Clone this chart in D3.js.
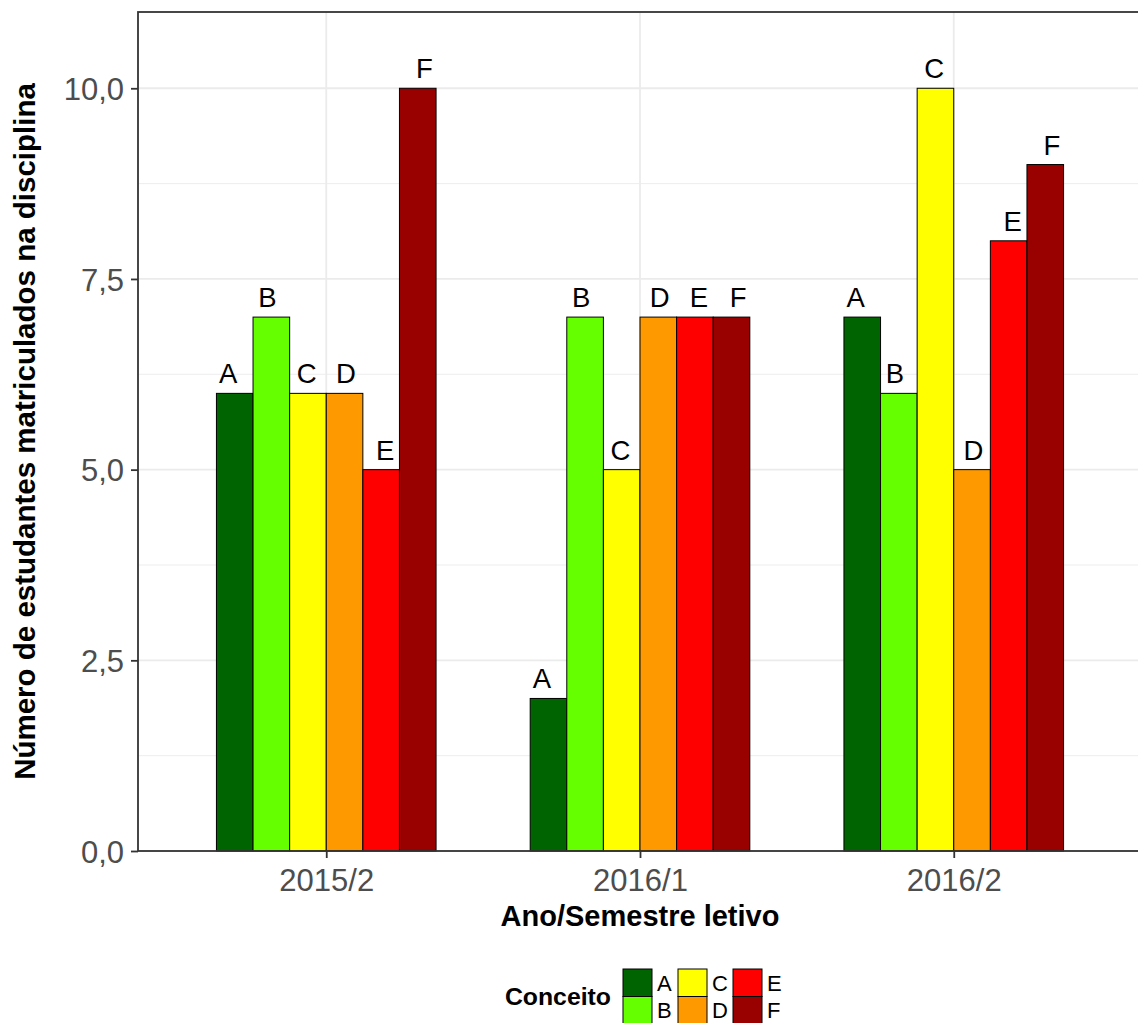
<!DOCTYPE html>
<html><head><meta charset="utf-8">
<script src="https://cdn.jsdelivr.net/npm/d3@7"></script>
<style>body{margin:0;background:#fff;} svg{display:block;font-family:"Liberation Sans",Arial,sans-serif;}</style>
</head><body>
<svg id="c" width="1138" height="1023"></svg>
<script>
const semesters = ["2015/2", "2016/1", "2016/2"];
const concepts = ["A", "B", "C", "D", "E", "F"];
const colors = ["#006400", "#66FF00", "#FFFF00", "#FF9900", "#FF0000", "#990000"];
const valuesA = [6, 2, 7];
const valuesB = [7, 7, 6];
const valuesC = [6, 5, 10];
const valuesD = [6, 7, 5];
const valuesE = [5, 7, 8];
const valuesF = [10, 7, 9];
const yTicks = [0, 2.5, 5, 7.5, 10];
const yMinor = [1.25, 3.75, 6.25, 8.75];

const series = [valuesA, valuesB, valuesC, valuesD, valuesE, valuesF];
const data = [];
semesters.forEach((s, i) => concepts.forEach((c, j) => data.push({sem: s, con: c, v: series[j][i]})));

const svg = d3.select("#c");
const L = 138, R = 1142, T = 12, B = 851;
const step = (R - L) / (semesters.length + 0.2);
const x = d3.scalePoint().domain(semesters).range([L + 0.6 * step, R - 0.6 * step]);
const bw = 0.7 * step;
const xi = d3.scaleBand().domain(concepts).range([-bw / 2, bw / 2]).padding(0);
const tw = 0.75 * step;
const xt = d3.scaleBand().domain(concepts).range([-tw / 2, tw / 2]).padding(0);
const y = d3.scaleLinear().domain([0, 11]).range([B, T]);
const color = d3.scaleOrdinal().domain(concepts).range(colors);

// grid
const g = svg.append("g");
g.selectAll(".mn").data(yMinor).join("line").attr("x1", L).attr("x2", R)
  .attr("y1", d => y(d)).attr("y2", d => y(d)).attr("stroke", "#EBEBEB").attr("stroke-width", 0.9);
g.selectAll(".mj").data(yTicks).join("line").attr("x1", L).attr("x2", R)
  .attr("y1", d => y(d)).attr("y2", d => y(d)).attr("stroke", "#EBEBEB").attr("stroke-width", 1.8);
g.selectAll(".vx").data(semesters).join("line").attr("y1", T).attr("y2", B)
  .attr("x1", d => x(d)).attr("x2", d => x(d)).attr("stroke", "#EBEBEB").attr("stroke-width", 1.8);

// bars
svg.append("g").selectAll("rect").data(data).join("rect")
  .attr("x", d => x(d.sem) + xi(d.con)).attr("width", xi.bandwidth())
  .attr("y", d => y(d.v)).attr("height", d => B - y(d.v))
  .attr("fill", d => color(d.con)).attr("stroke", "#000").attr("stroke-width", 1);

// bar labels
svg.append("g").selectAll("text").data(data).join("text")
  .attr("x", d => x(d.sem) + xt(d.con) + xt.bandwidth() / 2)
  .attr("y", d => y(d.v) - 10).attr("text-anchor", "middle")
  .attr("font-size", 27.5).attr("fill", "#000").text(d => d.con);

// border
svg.append("rect").attr("x", L).attr("y", T).attr("width", R - L).attr("height", B - T)
  .attr("fill", "none").attr("stroke", "#333333").attr("stroke-width", 1.8);

// axes
const fmt = d => d3.format(".1f")(d).replace(".", ",");
const ya = svg.append("g").attr("transform", `translate(${L},0)`)
  .call(d3.axisLeft(y).tickValues(yTicks).tickFormat(fmt).tickSize(7).tickPadding(7));
const xa = svg.append("g").attr("transform", `translate(0,${B})`)
  .call(d3.axisBottom(x).tickSize(7).tickPadding(4));
[ya, xa].forEach(a => {
  a.select(".domain").remove();
  a.selectAll(".tick line").attr("stroke", "#333333").attr("stroke-width", 1.8);
  a.selectAll(".tick text").attr("fill", "#4D4D4D").attr("font-size", 31)
    .attr("font-family", "Liberation Sans, Arial, sans-serif");
});
ya.selectAll(".tick text").attr("dy", "0.36em");
xa.selectAll(".tick text").attr("dy", "0.92em");

// titles
svg.append("text").attr("x", (L + R) / 2).attr("y", 926).attr("text-anchor", "middle")
  .attr("font-weight", "bold").attr("font-size", 29).text("Ano/Semestre letivo");
svg.append("text").attr("transform", `translate(35,${(T + B) / 2}) rotate(-90)`)
  .attr("text-anchor", "middle").attr("font-weight", "bold").attr("font-size", 29.5)
  .text("Número de estudantes matriculados na disciplina");

// legend
const lg = svg.append("g");
lg.append("text").attr("x", 611).attr("y", 1005).attr("text-anchor", "end")
  .attr("font-weight", "bold").attr("font-size", 24.8).text("Conceito");
concepts.forEach((c, i) => {
  const col = Math.floor(i / 2), row = i % 2;
  const kx = 623 + col * 55, ky = 969 + row * 27.5;
  lg.append("rect").attr("x", kx).attr("y", ky).attr("width", 29).attr("height", 27.5)
    .attr("fill", color(c)).attr("stroke", "#000").attr("stroke-width", 1);
  lg.append("text").attr("x", kx + 34).attr("y", ky + 21.5).attr("font-size", 22).text(c);
});
</script>
</body></html>
